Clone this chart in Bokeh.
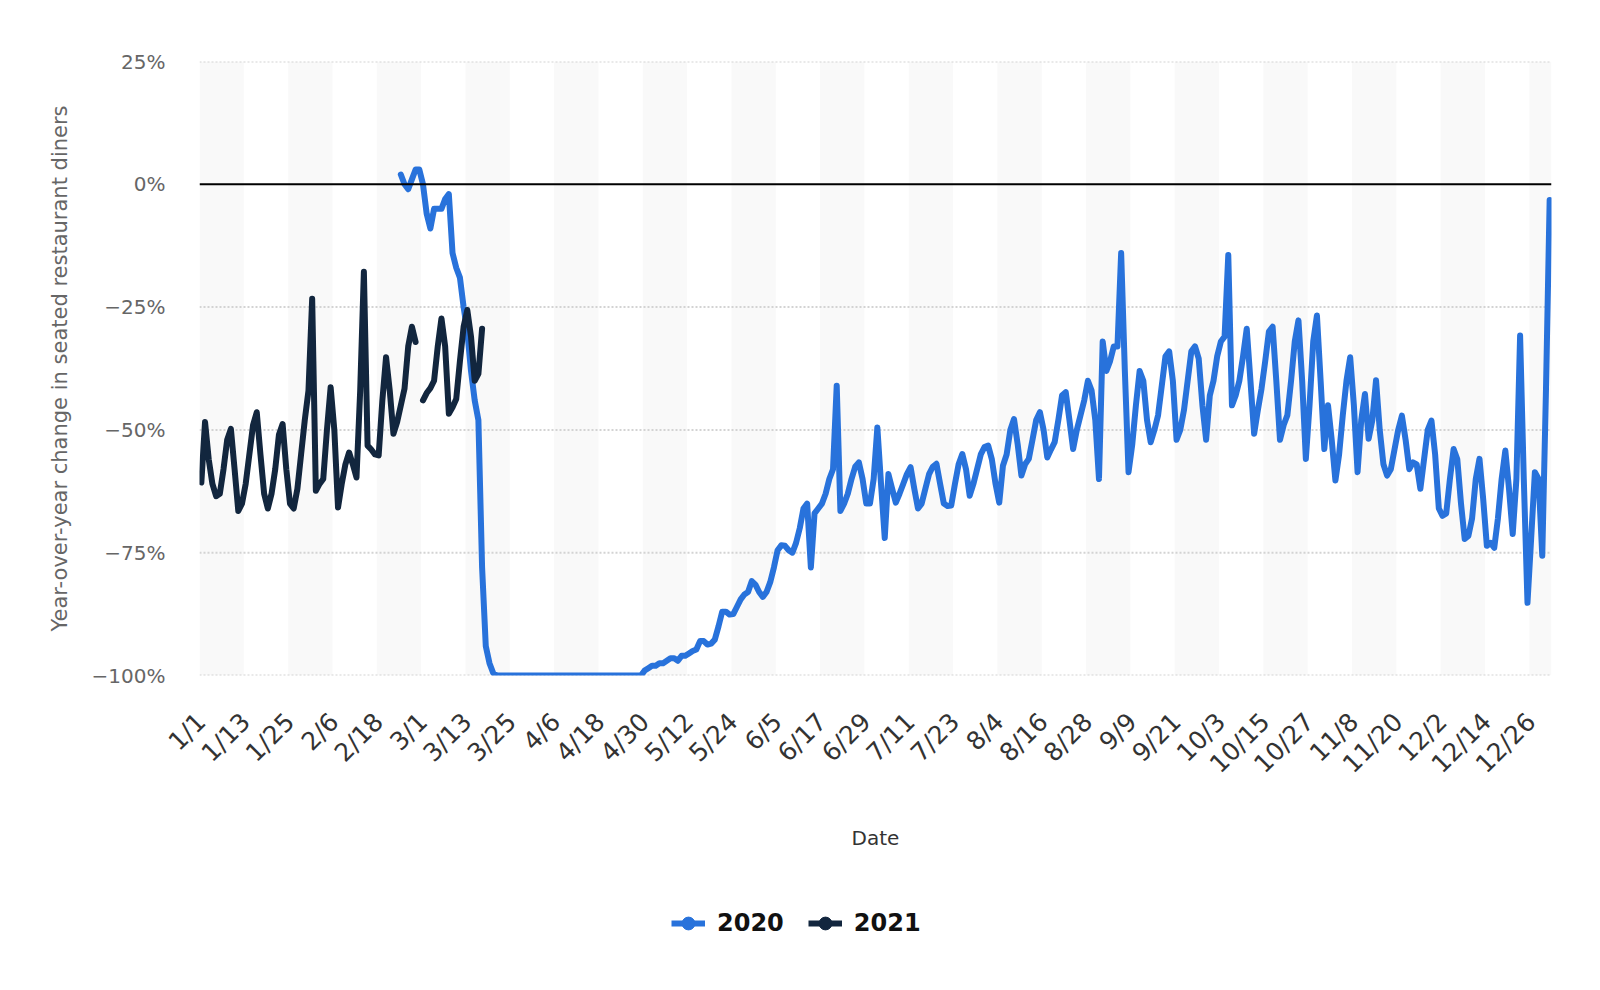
import math
from bokeh.plotting import figure
from bokeh.layouts import column
from bokeh.models import (Range1d, FixedTicker, Span, BoxAnnotation, Legend,
                          LegendItem, ColumnDataSource)
from bokeh.embed import file_html
from bokeh.resources import INLINE

NaN = float("nan")

# ---------------- data ----------------
# x axis = day of the (leap) year, 0 = 1/1 ... 365 = 12/31
tick_labels = ["1/1", "1/13", "1/25", "2/6", "2/18", "3/1", "3/13", "3/25",
               "4/6", "4/18", "4/30", "5/12", "5/24", "6/5", "6/17", "6/29",
               "7/11", "7/23", "8/4", "8/16", "8/28", "9/9", "9/21", "10/3",
               "10/15", "10/27", "11/8", "11/20", "12/2", "12/14", "12/26"]
tick_days = [12 * i for i in range(len(tick_labels))]

y_ticks = [-100, -75, -50, -25, 0, 25]
y_tick_labels = ["\u2212100%", "\u221275%", "\u221250%", "\u221225%", "0%", "25%"]

# 2020: first value is 2/24 (day 54), last is 12/31 (day 365)
first_day_2020 = 54
values_2020 = [
    2, 0, -1, 1, 3, 3,                                            # 54-59
    0, -6, -9, -5, -5, -5, -3, -2, -14, -17,                      # 60-69
    -19, -25, -30, -38, -44, -48, -78, -94, -97.5, -99.5,         # 70-79
    -100, -100, -100, -100, -100, -100, -100, -100, -100, -100,   # 80-89
    -100, -100, -100, -100, -100, -100, -100, -100, -100, -100,   # 90-99
    -100, -100, -100, -100, -100, -100, -100, -100, -100, -100,   # 100-109
    -100, -100, -100, -100, -100, -100, -100, -100, -100, -100,   # 110-119
    -99, -98.5, -98, -98, -97.5, -97.5, -97, -96.5, -96.5, -97,   # 120-129
    -96, -96, -95.5, -95, -94.7, -93, -93, -93.7, -93.5, -92.7,   # 130-139
    -90, -87, -87, -87.6, -87.5, -86, -84.5, -83.5, -83, -80.8,   # 140-149
    -81.5, -83, -84, -83, -81, -78, -74.5, -73.5, -73.6, -74.5,   # 150-159
    -75, -73, -70, -66, -65, -78, -67, -66, -65, -63,             # 160-169
    -60, -58, -41, -66.5, -65, -63, -60, -57.5, -56.6, -60,       # 170-179
    -65, -65, -60, -49.5, -61, -72, -59, -62, -64.8, -63,         # 180-189
    -61, -59, -57.6, -62, -66, -65, -62, -59, -57.5, -56.9,       # 190-199
    -61, -65, -65.5, -65.4, -61, -57, -54.9, -58, -63.4, -61,     # 200-209
    -58, -55, -53.5, -53.2, -56, -61, -64.8, -57.3, -55, -50,     # 210-219
    -47.8, -53, -59.3, -57, -55.9, -52, -48, -46.4, -50, -55.6,   # 220-229
    -54, -52.5, -48, -43, -42.3, -48, -53.9, -50, -47, -44,       # 230-239
    -40, -42, -48, -60, -32, -38, -36, -33, -33, -14,             # 240-249
    -38, -58.6, -53, -45, -38, -40, -48, -52.5, -50, -47,         # 250-259
    -41, -35, -34, -40, -52, -50, -46, -40, -34, -33,             # 260-269
    -35.5, -45, -52, -43, -40, -35, -32, -31, -14.4, -45,         # 270-279
    -43, -40, -35, -29.4, -40, -50.8, -46, -41.6, -36, -30,       # 280-289
    -29, -40, -52, -49, -47, -40, -32, -27.7, -40, -55.9,         # 290-299
    -45, -32, -26.7, -40, -53.9, -45, -52, -60.3, -55, -47,       # 300-309
    -40, -35.2, -45, -58.6, -48, -42.7, -51.8, -48, -39.9, -50,   # 310-319
    -57, -59.3, -58, -54, -50, -47.1, -52, -58, -56.6, -57,       # 320-329
    -62, -56, -50, -48.1, -55, -66, -67.5, -67, -60, -53.9,       # 330-339
    -56, -65, -72.2, -71.6, -68, -60, -55.9, -64, -73.6, -73,     # 340-349
    -74, -68, -60, -54.2, -62, -71.2, -60, -30.8, -60, -85.2,     # 350-359
    -72, -58.6, -60, -75.6, -42, -3.2,                            # 360-365
]

# 2021: first value is 1/1 (day 0); no 2/29 (day 59)
first_day_2021 = 0
values_2021 = [
    -60.7, -48.4, -56, -61, -63.5, -63, -58, -52, -49.8, -58,     # 0-9
    -66.5, -65, -61, -55, -49, -46.4, -55, -63, -66, -63,         # 10-19
    -58, -51, -48.8, -58, -65, -66, -62, -55, -48, -42,           # 20-29
    -23.3, -62.4, -61, -60, -50, -41.3, -50, -65.8, -61, -57,     # 30-39
    -54.6, -57, -59.7, -42, -17.8, -53.2, -54, -55, -55.2, -44,   # 40-49
    -35.2, -42, -50.8, -48.4, -45, -41.6, -33, -29, -32.1, NaN,   # 50-59
    -44, -42.5, -41.5, -40, -33, -27.3, -33, -46.7, -45.4, -43.7, # 60-69
    -36, -29, -25.6, -31, -40, -38.6, -29.4,                      # 70-76
]

series_names = ["2020", "2021"]
series_colors = ["#2872db", "#12263e"]

# ---------------- main figure ----------------
FONT = "DejaVu Sans"

p = figure(width=1600, height=880, output_backend="svg", toolbar_location=None,
           x_range=Range1d(-0.5, 365.5), y_range=Range1d(-100, 25),
           min_border_left=199, min_border_right=49, min_border_top=61,
           min_border_bottom=205, outline_line_color=None,
           background_fill_color="white", border_fill_color="white")

p.xgrid.visible = False
p.ygrid.visible = False

# alternating column bands between every other pair of ticks
for i in range(0, len(tick_days), 2):
    left = tick_days[i] - 0.5
    right = min(tick_days[i] + 11.5, 365.5)
    p.add_layout(BoxAnnotation(left=left, right=right, fill_color="#f9f9f9",
                               fill_alpha=1.0, line_alpha=0, level="underlay"))

# dotted horizontal grid lines
for v in y_ticks:
    if v == 0:
        continue
    p.add_layout(Span(location=v, dimension="width", line_color="#d3d3d3",
                      line_width=2, line_dash="2 2", level="underlay"))

# series
src20 = ColumnDataSource(dict(
    x=[first_day_2020 + i for i in range(len(values_2020))], y=values_2020))
src21 = ColumnDataSource(dict(
    x=[first_day_2021 + i for i in range(len(values_2021))], y=values_2021))

p.line("x", "y", source=src20, line_color=series_colors[0], line_width=6,
       line_join="round", line_cap="round")
p.line("x", "y", source=src21, line_color=series_colors[1], line_width=6,
       line_join="round", line_cap="round")

# zero line
p.add_layout(Span(location=0, dimension="width", line_color="#000000",
                  line_width=2))

# axes
yax = p.yaxis[0]
yax.ticker = FixedTicker(ticks=y_ticks)
yax.major_label_overrides = {t: l for t, l in zip(y_ticks, y_tick_labels)}
yax.major_label_text_font = FONT
yax.major_label_text_font_size = "20px"
yax.major_label_text_color = "#666666"
yax.axis_line_color = None
yax.major_tick_line_color = None
yax.minor_tick_line_color = None
yax.major_tick_out = 0
yax.major_tick_in = 0
yax.major_label_standoff = 34
yax.axis_label = "Year-over-year change in seated restaurant diners"
yax.axis_label_text_font = FONT
yax.axis_label_text_font_size = "21px"
yax.axis_label_text_font_style = "normal"
yax.axis_label_text_color = "#666666"
yax.axis_label_standoff = 17

xax = p.xaxis[0]
xax.ticker = FixedTicker(ticks=tick_days)
xax.major_label_overrides = {t: l for t, l in zip(tick_days, tick_labels)}
xax.major_label_orientation = math.pi / 4
xax.major_label_text_font = FONT
xax.major_label_text_font_size = "25px"
xax.major_label_text_color = "#333333"
xax.axis_line_color = None
xax.major_tick_line_color = None
xax.minor_tick_line_color = None
xax.major_tick_out = 0
xax.major_tick_in = 0
xax.major_label_standoff = 42
xax.axis_label = "Date"
xax.axis_label_text_font = FONT
xax.axis_label_text_font_size = "20px"
xax.axis_label_text_font_style = "normal"
xax.axis_label_text_color = "#333333"
xax.axis_label_standoff = 34

# ---------------- legend strip ----------------
lf = figure(width=1600, height=110, output_backend="svg", toolbar_location=None,
            x_range=Range1d(0, 1), y_range=Range1d(0, 1),
            x_axis_type=None, y_axis_type=None, min_border=0,
            outline_line_color=None, background_fill_color="white",
            border_fill_color="white")
lf.xgrid.visible = False
lf.ygrid.visible = False

items = []
for name, color in zip(series_names, series_colors):
    # swatch renderers kept outside the strip's visible range (legend only)
    lr = lf.line(x=[-3, -2], y=[-3, -3], line_color=color, line_width=6)
    mr = lf.scatter(x=[-3], y=[-3], marker="circle", size=12,
                    fill_color=color, line_color=color)
    items.append(LegendItem(label=name, renderers=[lr, mr]))

legend = Legend(items=items, orientation="horizontal", location=(472, 51),
                border_line_color=None, background_fill_alpha=0,
                padding=0, margin=0, spacing=24, glyph_width=34,
                glyph_height=32, label_standoff=12,
                label_text_font=FONT, label_text_font_size="24px",
                label_text_font_style="bold", label_text_color="#111111")
lf.add_layout(legend, "center")

layout = column(p, lf, spacing=0)

open("out.html", "w").write(file_html(layout, INLINE))
